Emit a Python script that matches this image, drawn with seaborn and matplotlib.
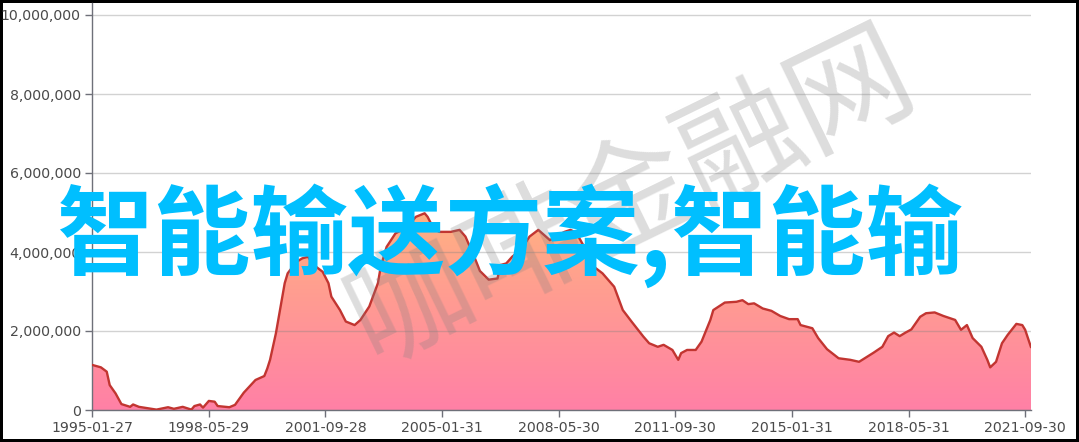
import numpy as np
import pandas as pd
import matplotlib
matplotlib.use('Agg')
import matplotlib.pyplot as plt
import matplotlib.dates as mdates
from matplotlib.colors import LinearSegmentedColormap
from matplotlib.ticker import FuncFormatter
import seaborn as sns

# monthly readings (month, value)
MONTHS = [
    '1995-01', '1995-04', '1995-06', '1995-07', '1995-09', '1995-11', '1996-02', '1996-03',
    '1996-05', '1996-11', '1997-03', '1997-05', '1997-08', '1997-11', '1997-12', '1998-02',
    '1998-03', '1998-05', '1998-07', '1998-08', '1998-12', '1999-02', '1999-05', '1999-09',
    '1999-12', '2000-01', '2000-02', '2000-04', '2000-07', '2000-08', '2000-11', '2001-01',
    '2001-03', '2001-05', '2001-08', '2001-10', '2001-11', '2002-02', '2002-04', '2002-07',
    '2002-09', '2002-12', '2003-03', '2003-04', '2003-06', '2003-09', '2004-01', '2004-04',
    '2004-07', '2004-08', '2004-10', '2004-12', '2005-04', '2005-07', '2005-09', '2005-12',
    '2006-02', '2006-05', '2006-08', '2006-09', '2006-11', '2007-01', '2007-04', '2007-07',
    '2007-10', '2007-12', '2008-02', '2008-04', '2008-07', '2008-09', '2008-11', '2009-02',
    '2009-05', '2009-08', '2009-12', '2010-03', '2010-06', '2010-10', '2010-12', '2011-03',
    '2011-05', '2011-08', '2011-10', '2011-11', '2012-01', '2012-04', '2012-06', '2012-09',
    '2012-10', '2013-02', '2013-06', '2013-08', '2013-10', '2013-12', '2014-03', '2014-06',
    '2014-09', '2014-12', '2015-03', '2015-04', '2015-08', '2015-10', '2016-01', '2016-05',
    '2016-09', '2016-12', '2017-02', '2017-05', '2017-08', '2017-10', '2017-12', '2018-02',
    '2018-04', '2018-06', '2018-09', '2018-11', '2019-02', '2019-05', '2019-09', '2019-11',
    '2020-01', '2020-03', '2020-06', '2020-08', '2020-09', '2020-11', '2021-01', '2021-03',
    '2021-06', '2021-08', '2021-09', '2021-11',
]
VALUES = [
    1140000, 1080000, 970000, 630000, 420000, 150000, 80000, 140000,
    80000, 10000, 70000, 30000, 80000, 10000, 100000, 140000,
    60000, 230000, 210000, 100000, 70000, 130000, 440000, 760000,
    860000, 1050000, 1270000, 1940000, 3210000, 3460000, 3750000, 3840000,
    3880000, 3670000, 3500000, 3210000, 2870000, 2530000, 2240000, 2150000,
    2280000, 2620000, 3210000, 3630000, 4130000, 4470000, 4640000, 4890000,
    4980000, 4890000, 4600000, 4510000, 4510000, 4560000, 4390000, 3880000,
    3520000, 3300000, 3330000, 3670000, 3710000, 3880000, 4050000, 4390000,
    4560000, 4430000, 4300000, 4390000, 4510000, 4560000, 4490000, 4100000,
    3630000, 3460000, 3120000, 2530000, 2240000, 1860000, 1690000, 1600000,
    1650000, 1520000, 1270000, 1440000, 1520000, 1520000, 1730000, 2280000,
    2530000, 2720000, 2740000, 2780000, 2680000, 2700000, 2570000, 2510000,
    2380000, 2300000, 2300000, 2150000, 2070000, 1820000, 1540000, 1310000,
    1270000, 1220000, 1310000, 1450000, 1600000, 1870000, 1960000, 1870000,
    1960000, 2040000, 2360000, 2450000, 2470000, 2380000, 2280000, 2030000,
    2150000, 1820000, 1600000, 1270000, 1080000, 1220000, 1690000, 1900000,
    2180000, 2150000, 2030000, 1590000,
]
X_TICKS = ['1995-01-27', '1998-05-29', '2001-09-28', '2005-01-31', '2008-05-30',
           '2011-09-30', '2015-01-31', '2018-05-31', '2021-09-30']
Y_TICKS = [0, 2000000, 4000000, 6000000, 8000000, 10000000]
TITLE = '智能输送方案,智能输'
WATERMARK = '咖啡金融网'

sns.set_style('white')
plt.rcParams['font.family'] = ['DejaVu Sans', 'Noto Sans CJK SC']

df = pd.DataFrame({
    'date': pd.to_datetime(MONTHS, format='%Y-%m') + pd.offsets.MonthEnd(0),
    'value': VALUES,
})

W, H = 1079, 442
fig = plt.figure(figsize=(W / 100, H / 100), dpi=100)
ax = fig.add_axes([92 / W, 1 - 410 / H, (1031 - 92) / W, (410 - 3) / H])

x_start = pd.Timestamp(X_TICKS[0])
x_end = df['date'].iloc[-1]

# gradient area under the line
poly = ax.fill_between(df['date'], df['value'], 0, facecolor='none', edgecolor='none')
cmap = LinearSegmentedColormap.from_list('area', ['#ff80a6', '#ffb182'])
grad = np.linspace(0, 1, 256).reshape(-1, 1)
im = ax.imshow(grad, extent=[mdates.date2num(x_start), mdates.date2num(x_end), 0, max(VALUES)],
               origin='lower', aspect='auto', cmap=cmap, zorder=1)
im.set_clip_path(poly.get_paths()[0], transform=ax.transData)

sns.lineplot(data=df, x='date', y='value', color='#c23531', linewidth=1.7, ax=ax, zorder=4)

ax.set_xlim(x_start, x_end)
ax.set_ylim(0, 10000000 * 407 / 395)
ax.set_yticks(Y_TICKS)
ax.yaxis.set_major_formatter(FuncFormatter(lambda v, p: f'{int(v):,}'))
ax.set_xticks(pd.to_datetime(X_TICKS))
ax.set_xticklabels(X_TICKS)
ax.set_xlabel('')
ax.set_ylabel('')

ax.set_axisbelow(False)
ax.yaxis.grid(True, color='#808080', alpha=0.35, linewidth=1)
ax.xaxis.grid(False)
for side in ['top', 'right']:
    ax.spines[side].set_visible(False)
for side in ['left', 'bottom']:
    ax.spines[side].set_color('#6e7079')
    ax.spines[side].set_linewidth(1)
ax.tick_params(axis='both', direction='out', length=5, width=1, color='#6e7079',
               labelsize=10.2, labelcolor='#4a4a4a', pad=3)
ax.tick_params(axis='x', bottom=True)
ax.tick_params(axis='y', left=True)

fig.text(632 / W, 1 - 198 / H, WATERMARK, rotation=26, ha='center', va='center',
         fontsize=88, color='#808080', alpha=0.27, fontweight='light',
         family=['Noto Sans CJK SC', 'DejaVu Sans'], zorder=5)
fig.text(56 / W, 1 - 236 / H, TITLE, ha='left', va='center', fontsize=70,
         color='#00bfff', fontweight='bold', family=['Noto Sans CJK SC', 'DejaVu Sans'], zorder=10)

fig.patch.set_edgecolor('black')
fig.patch.set_linewidth(3)
fig.savefig('out.png', dpi=100)
